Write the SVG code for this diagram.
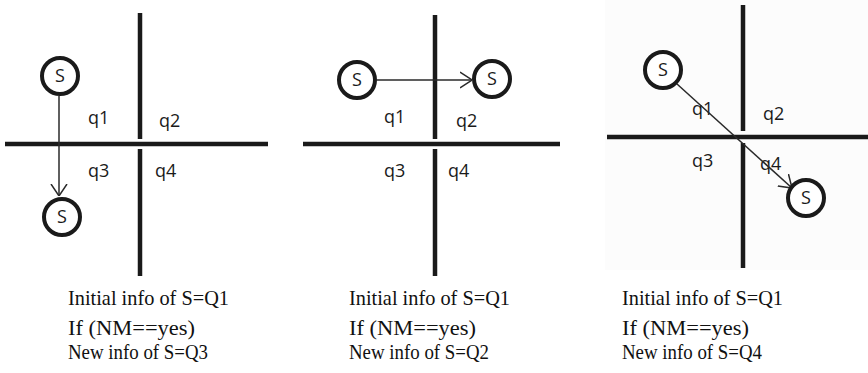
<svg xmlns="http://www.w3.org/2000/svg" width="868" height="373" viewBox="0 0 868 373">
<style>
.axis{stroke:#1a1a1a;stroke-width:4.5;fill:none}
.node circle{fill:#fff;stroke:#1a1a1a;stroke-width:4}
.node text{font-family:"Open Sans","DejaVu Sans",sans-serif;font-size:18px;fill:#1a1a1a;text-anchor:middle}
.q{font-family:"Open Sans","DejaVu Sans",sans-serif;font-size:18px;fill:#1a1a1a}
.edge{stroke:#2a2a2a;stroke-width:1.5;fill:none;marker-end:url(#arr)}
.cap{font-family:"Liberation Serif","Times New Roman",serif;font-size:21.5px;fill:#111}
</style>
<defs>
<marker id="arr" viewBox="0 0 12 18" refX="12" refY="9" markerWidth="12" markerHeight="18" markerUnits="userSpaceOnUse" orient="auto">
<path d="M0,1 L12,9 L0,17" fill="none" stroke="#2a2a2a" stroke-width="1.5"/>
</marker>
</defs>
<rect x="0" y="0" width="868" height="373" fill="#fff"/>
<rect x="605" y="0" width="263" height="270" fill="#fcfcfc"/>

<g id="axes">
<line class="axis" x1="5" y1="144" x2="268" y2="144"/>
<line class="axis" x1="140" y1="13" x2="140" y2="139"/>
<line class="axis" x1="140" y1="149" x2="140" y2="276"/>
<line class="axis" x1="303" y1="144" x2="560" y2="144"/>
<line class="axis" x1="435" y1="15" x2="435" y2="139"/>
<line class="axis" x1="435" y1="149" x2="435" y2="276"/>
<line class="axis" x1="607" y1="137" x2="868" y2="137"/>
<line class="axis" x1="743" y1="5" x2="743" y2="131"/>
<line class="axis" x1="743" y1="143" x2="743" y2="268"/>
</g>

<g id="quadrant-labels">
<text class="q" x="88" y="124">q1</text>
<text class="q" x="159" y="127">q2</text>
<text class="q" x="88" y="177">q3</text>
<text class="q" x="155" y="177">q4</text>
<text class="q" x="384" y="123">q1</text>
<text class="q" x="456" y="127">q2</text>
<text class="q" x="384" y="177">q3</text>
<text class="q" x="448" y="177">q4</text>
<text class="q" x="692" y="115">q1</text>
<text class="q" x="763" y="120">q2</text>
<text class="q" x="692" y="167">q3</text>
<text class="q" x="760" y="170">q4</text>
</g>

<g id="connectors">
<line class="edge" x1="59" y1="96" x2="59" y2="196"/>
<line class="edge" x1="377" y1="80" x2="472" y2="80"/>
<line class="edge" x1="677" y1="84" x2="792" y2="188"/>
</g>

<g id="s1-initial" class="node"><circle cx="60" cy="76" r="18"/><text x="60" y="82">S</text></g>
<g id="s1-new" class="node"><circle cx="62" cy="217" r="18"/><text x="62" y="223">S</text></g>
<g id="s2-initial" class="node"><circle cx="357" cy="80" r="18"/><text x="357" y="86">S</text></g>
<g id="s2-new" class="node"><circle cx="492" cy="79" r="18"/><text x="492" y="85">S</text></g>
<g id="s3-initial" class="node"><circle cx="663" cy="70" r="18"/><text x="663" y="76">S</text></g>
<g id="s3-new" class="node"><circle cx="806" cy="198" r="18"/><text x="806" y="204">S</text></g>

<g id="captions">
<text class="cap" x="68" y="305" textLength="161" lengthAdjust="spacingAndGlyphs">Initial info of S=Q1</text>
<text class="cap" x="68" y="335" textLength="127" lengthAdjust="spacingAndGlyphs">If (NM==yes)</text>
<text class="cap" x="68" y="359" textLength="140" lengthAdjust="spacingAndGlyphs">New info of S=Q3</text>
<text class="cap" x="349" y="305" textLength="161" lengthAdjust="spacingAndGlyphs">Initial info of S=Q1</text>
<text class="cap" x="349" y="335" textLength="127" lengthAdjust="spacingAndGlyphs">If (NM==yes)</text>
<text class="cap" x="349" y="359" textLength="140" lengthAdjust="spacingAndGlyphs">New info of S=Q2</text>
<text class="cap" x="622" y="305" textLength="161" lengthAdjust="spacingAndGlyphs">Initial info of S=Q1</text>
<text class="cap" x="622" y="335" textLength="127" lengthAdjust="spacingAndGlyphs">If (NM==yes)</text>
<text class="cap" x="622" y="359" textLength="140" lengthAdjust="spacingAndGlyphs">New info of S=Q4</text>
</g>
</svg>
